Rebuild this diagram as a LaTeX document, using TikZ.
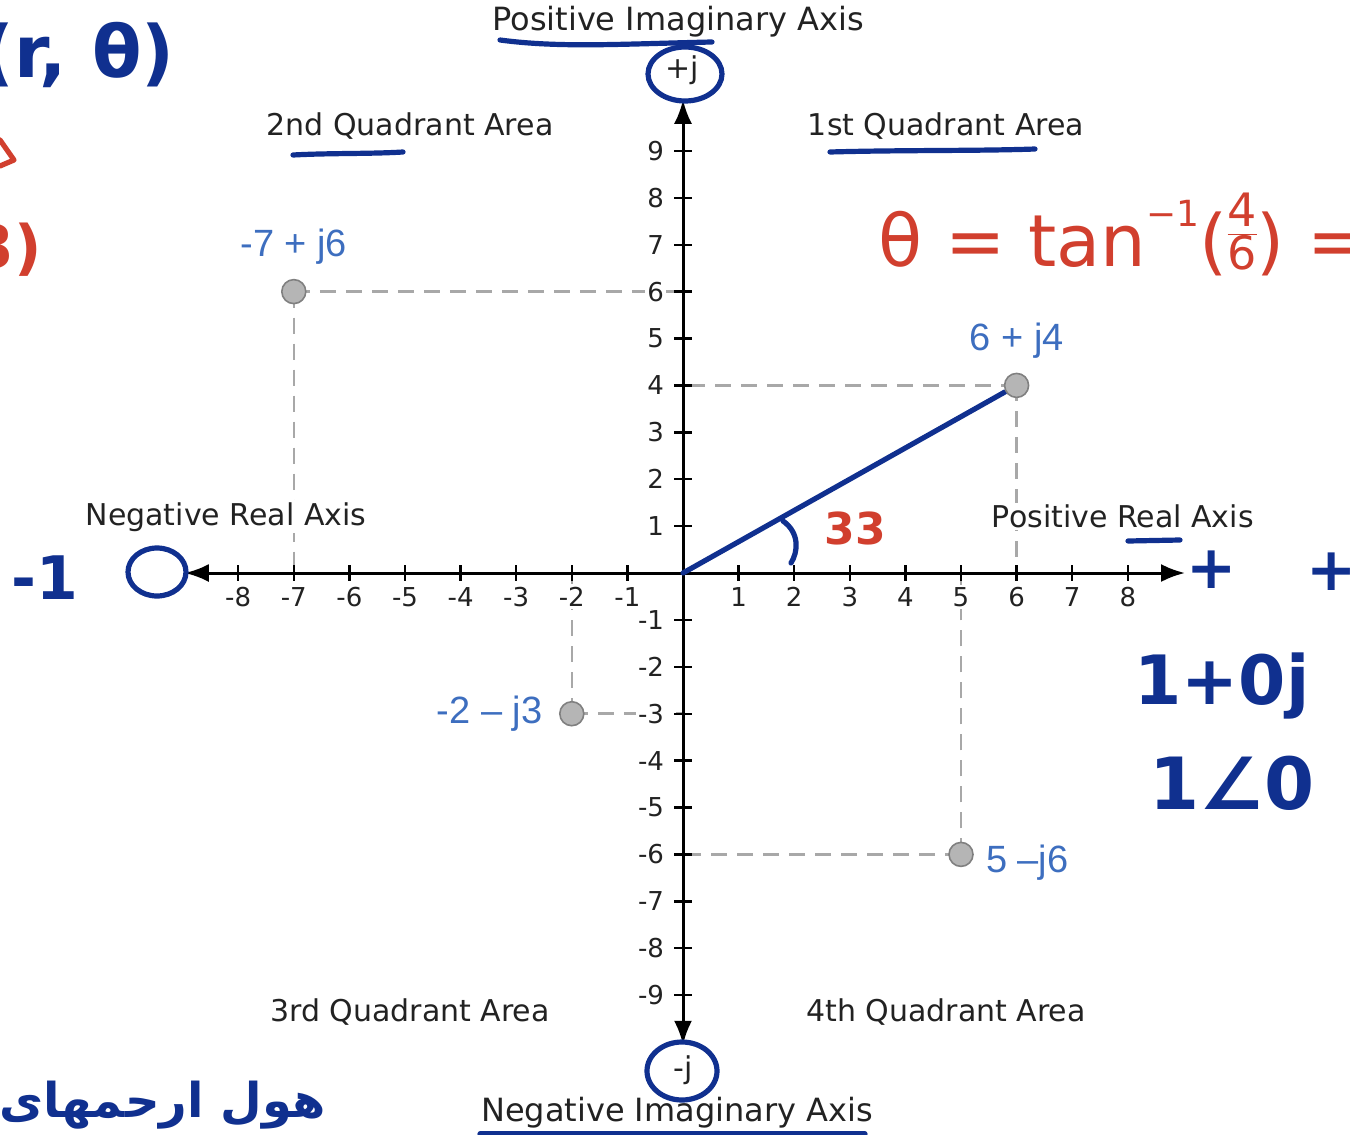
\documentclass[tikz,border=0pt]{standalone}
\usepackage{fontspec}
\setmainfont{DejaVu Sans}
\newfontfamily\ptfont{Liberation Sans}
\newfontfamily\arabicfont[Script=Arabic]{DejaVu Sans}
\TeXXeTstate=1
\usetikzlibrary{arrows.meta,calc,positioning}
\definecolor{inkblue}{HTML}{10308F}
\definecolor{inkred}{HTML}{D13F2E}
\definecolor{ptblue}{HTML}{3D6EBF}
\definecolor{ptgray}{HTML}{B5B5B5}
\definecolor{guidegray}{HTML}{A8A8A8}
\definecolor{txtgray}{HTML}{222222}
\tikzset{
  axislbl/.style={font=\fontsize{15}{18}\selectfont, text=txtgray, fill=white, inner sep=1pt},
  ticklbl/.style={font=\fontsize{13}{15}\selectfont, text=txtgray, fill=white, inner sep=1pt},
  ptlbl/.style={font=\ptfont\fontsize{19}{22}\selectfont, text=ptblue, inner sep=1pt},
  dot/.style={circle, fill=ptgray, draw=gray, line width=0.8pt, minimum size=12pt, inner sep=0pt},
  guide/.style={draw=guidegray, line width=1.3pt, dash pattern=on 8pt off 5pt},
  axisline/.style={line width=1.5pt, {Latex[length=12pt,width=9pt]}-{Latex[length=12pt,width=9pt]}},
  tickmark/.style={line width=1.2pt},
  ink/.style={draw=inkblue, line width=2.6pt, line cap=round, line join=round},
  redink/.style={draw=inkred, line width=2.6pt, line cap=round, line join=round},
  hand/.style={text=inkblue, font=\fontsize{30}{34}\selectfont\bfseries, inner sep=0pt},
  redhand/.style={text=inkred, font=\fontsize{30}{34}\selectfont\bfseries, inner sep=0pt},
}
\begin{document}
\begin{tikzpicture}[x=0.5pt,y=-0.5pt]
\useasboundingbox (0,0) rectangle (1350,1135);

\begin{scope}[shift={(683,573)},x=27.8pt,y=23.45pt]
\coordinate (O) at (0,0);
\coordinate (c1) at (6,4);
\coordinate (c2) at (-7,6);
\coordinate (c3) at (-2,-3);
\coordinate (c4) at (5,-6);
\coordinate (xl) at (-8.96,0);
\coordinate (xr) at (9.03,0);
\coordinate (yt) at (0,10.09);
\coordinate (yb) at (0,-10.06);

\foreach \c in {c1,c2,c3,c4}{
  \draw[guide] (\c) -- (\c -| O);
  \draw[guide] (\c) -- (\c |- O);
}

\node[axislbl] (negre) at (-8.22,1.2) {Negative Real Axis};
\node[axislbl] (posre) at (7.91,1.2) {Positive Real Axis};

\draw[axisline] (xl) -- (xr);
\draw[axisline] (yb) -- (yt);

\foreach \x in {-8,-7,-6,-5,-4,-3,-2,-1,1,2,3,4,5,6,7,8}{
  \draw[tickmark] (\x,0.17) -- (\x,-0.17);
  \node[ticklbl] (tx\x) at (\x,-0.51) {\x};
}
\foreach \y in {-9,-8,-7,-6,-5,-4,-3,-2,-1,1,2,3,4,5,6,7,8,9}{
  \draw[tickmark] (-0.16,\y) -- (0.16,\y);
  \node[ticklbl, anchor=east] (ty\y) at (-0.3,\y) {\y};
}

\draw[ink] (O) -- ($(O)!0.965!(c1)$);

\node[dot] (p1) at (c1) {};
\node[dot] (p2) at (c2) {};
\node[dot] (p3) at (c3) {};
\node[dot] (p4) at (c4) {};
\node[ptlbl, above=6pt of p1] (l1) {6 + j4};
\node[ptlbl, above=6pt of p2] (l2) {-7 + j6};
\node[ptlbl, left=7pt of p3] (l3) {-2 – j3};
\node[ptlbl, right=5pt of p4, yshift=-4pt] (l4) {5 –j6};
\end{scope}

\node[axislbl, font=\fontsize{16}{19}\selectfont] (posim) at (678,22) {Positive Imaginary Axis};
\node[axislbl] (pj) at (682,70) {+j};
\node[axislbl] (q2) at (410,126) {2nd Quadrant Area};
\node[axislbl] (q1) at (946,126) {1st Quadrant Area};
\node[axislbl] (q3) at (410,1012) {3rd Quadrant Area};
\node[axislbl] (q4) at (946,1012) {4th Quadrant Area};
\node[axislbl] (mj) at (683,1070) {-j};
\node[axislbl, font=\fontsize{16}{19}\selectfont] (negim) at (677,1113) {Negative Imaginary Axis};

\draw[ink] (685,74) ellipse [x radius=37, y radius=27];
\draw[ink] (682,1071) ellipse [x radius=35, y radius=29];
\draw[ink] (500,40) .. controls (560,48) and (620,44) .. (712,42);
\draw[ink] (293,155) .. controls (330,153) and (370,154) .. (403,152);
\draw[ink] (830,152) .. controls (900,150) and (980,151) .. (1035,149);
\draw[ink] (1128,541) -- (1180,540);
\draw[ink] (480,1134) -- (865,1134);
\draw[ink] (157,572) ellipse [x radius=29, y radius=24];
\draw[ink] (783,521) .. controls (800,533) and (798,552) .. (791,563);

\node[hand] (mone) at (45,578) {-1};
\node[hand] (plus) at (1212,570) {+};
\node[hand] (plusb) at (1332,572) {+};
\node[hand, font=\fontsize{34}{38}\selectfont\bfseries] (rect) at (1222,686) {1+0j};
\node[hand, font=\fontsize{36}{40}\selectfont\bfseries] (polar) at (1232,783) {1∠0};
\node[hand, font=\fontsize{36}{40}\selectfont\bfseries, anchor=east] (rth) at (175,55) {(r, θ)};
\node[anchor=east, text=inkblue, font=\arabicfont\fontsize{24}{28}\selectfont\bfseries, inner sep=0pt] (fa) at (326,1105) {\beginR هول ارحمهای\endR};

\node[redhand, font=\fontsize{22}{26}\selectfont\bfseries] (ang) at (855,528) {33};
\node[text=inkred, font=\fontsize{36}{40}\selectfont, anchor=west, inner sep=0pt] (theta) at (878,238)
  {θ = tan\raisebox{0.55em}{\fontsize{18}{18}\selectfont −1}(\raisebox{8pt}{\fontsize{23}{23}\selectfont\begin{tabular}{@{}c@{}}4\\[-3pt]\hline 6\end{tabular}}) =};
\node[redhand, anchor=east] (rb) at (42,250) {3)};
\draw[redink] (0,140) -- (14,160) -- (0,166);
\end{tikzpicture}
\end{document}
